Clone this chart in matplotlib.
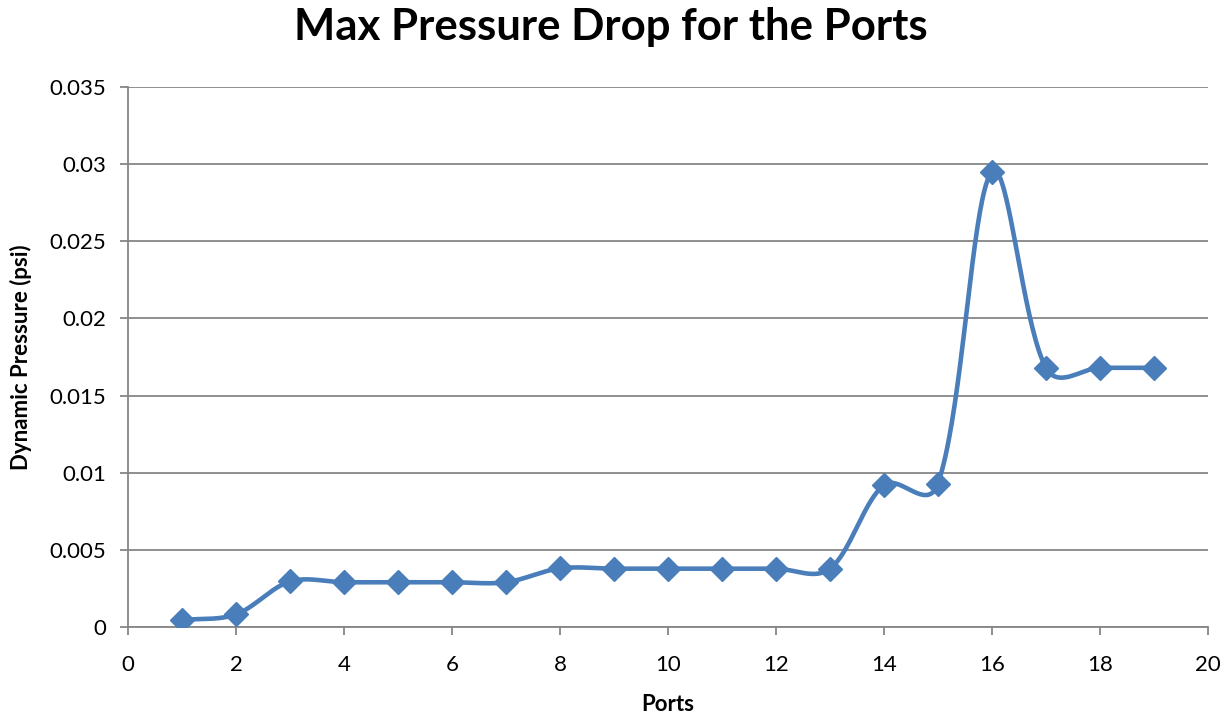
import numpy as np
import matplotlib
matplotlib.use("Agg")
import matplotlib.pyplot as plt

# データ
ports = [1, 2, 3, 4, 5, 6, 7, 8, 9, 10, 11, 12, 13, 14, 15, 16, 17, 18, 19]
pressure = [0.00045, 0.00082, 0.00295, 0.0029, 0.0029, 0.0029, 0.0029, 0.0038,
            0.00378, 0.00378, 0.00378, 0.00378, 0.00378, 0.0092, 0.0093, 0.0295,
            0.0168, 0.0168, 0.0168]

x_ticks = [0, 2, 4, 6, 8, 10, 12, 14, 16, 18, 20]
y_ticks = [0, 0.005, 0.01, 0.015, 0.02, 0.025, 0.03, 0.035]
y_tick_labels = ['0', '0.005', '0.01', '0.015', '0.02', '0.025', '0.03', '0.035']


def excel_smooth(xs, ys, sx, sy, n=40):
    # Excel風のスムージング（画素スケールで区間長に応じた制御点）
    xs = np.asarray(xs, float) * sx
    ys = np.asarray(ys, float) * sy
    pts = np.column_stack([xs, ys])
    pts = np.vstack([pts[0], pts, pts[-1]])
    seg = np.sqrt(np.linalg.norm(np.diff(pts, axis=0), axis=1))
    t = np.linspace(0, 1, n)[:, None]
    out = []
    for i in range(1, len(pts) - 2):
        p0, p3 = pts[i], pts[i + 1]
        d0 = pts[i + 1] - pts[i - 1]
        d1 = pts[i + 2] - pts[i]
        w0 = seg[i] / max(seg[i - 1] + seg[i], 1e-9) / 3
        w1 = seg[i] / max(seg[i] + seg[i + 1], 1e-9) / 3
        c1 = p0 + d0 * w0
        c2 = p3 - d1 * w1
        b = (1 - t) ** 3 * p0 + 3 * (1 - t) ** 2 * t * c1 \
            + 3 * (1 - t) * t ** 2 * c2 + t ** 3 * p3
        out.append(b)
    out = np.vstack(out)
    return out[:, 0] / sx, out[:, 1] / sy


plt.rcParams['font.family'] = ['Lato', 'DejaVu Sans']

fig = plt.figure(figsize=(12.32, 7.15), dpi=100)
ax = fig.add_axes([0.1039, 0.1231, 0.8766, 0.7552])

line_color = '#4A7EBB'
grid_color = '#868686'

# 画素単位のスケール（x: 54px/単位, y: 540px/0.035）
smx, smy = excel_smooth(ports, pressure, 54.0, 540.0 / 0.035)
ax.plot(smx, smy, color=line_color, lw=3.3, zorder=3, solid_capstyle='round')
ax.plot(ports, pressure, ls='none', marker='D', markersize=12,
        color=line_color, zorder=4)

ax.set_xlim(0, 20)
ax.set_ylim(0, 0.035)
ax.set_xticks(x_ticks)
ax.set_yticks(y_ticks)
ax.set_yticklabels(y_tick_labels)

ax.grid(axis='y', color=grid_color, lw=1.3)
ax.set_axisbelow(True)
for s in ['top', 'right']:
    ax.spines[s].set_visible(False)
for s in ['left', 'bottom']:
    ax.spines[s].set_color(grid_color)
    ax.spines[s].set_linewidth(1.3)
ax.tick_params(axis='both', colors=grid_color, length=6, width=1.3,
               labelsize=16, labelcolor='black', direction='out')
ax.tick_params(axis='x', pad=14)
ax.tick_params(axis='y', pad=10)

ax.set_xlabel('Ports', fontsize=16, fontweight='bold', labelpad=14)
ax.set_ylabel('Dynamic Pressure (psi)', fontsize=16, fontweight='bold', labelpad=12)
fig.suptitle('Max Pressure Drop for the Ports', fontsize=31.5, fontweight='bold',
             x=0.496, y=0.99)

fig.savefig('out.png', dpi=100)
